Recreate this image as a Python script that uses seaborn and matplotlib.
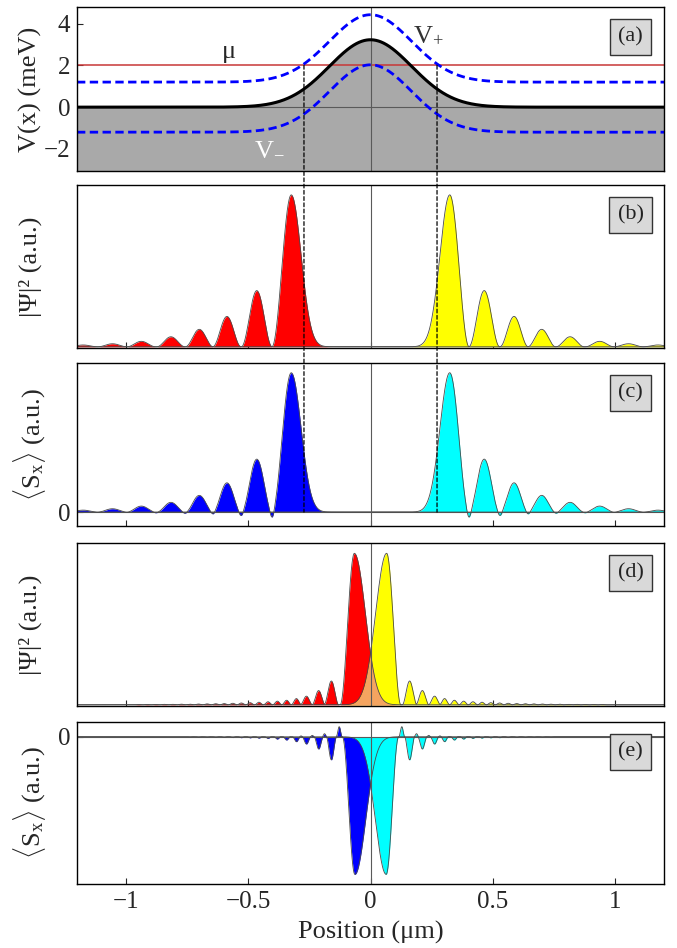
import numpy as np
import pandas as pd
import matplotlib
matplotlib.use("Agg")
import matplotlib.pyplot as plt
import seaborn as sns
from matplotlib.patches import ConnectionPatch

# ------------------------------------------------------------------
# Values (positions in µm)
# ------------------------------------------------------------------
# (a) barrier potential (meV)
pot_height = 3.23          # peak of V(x)
pot_width = 0.168          # gaussian width of the barrier
zeeman_shift = 1.2         # V± = V ± shift
mu_level = 2.0             # chemical potential
mu_cross = 0.272           # where V+ crosses mu (dashed guides)
a_yticks = [-2, 0, 2, 4]
a_yticklabels = ["\u22122", "0", "2", "4"]

x_ticks = [-1, -0.5, 0, 0.5, 1]
x_ticklabels = ["\u22121", "\u22120.5", "0", "0.5", "1"]

# (b) |Psi|^2 of the left state (red); right state (yellow) is its mirror image
b_main = (-0.324, 1.0, 0.079, 0.040)       # centre, height, left half-support, right sigma
b_lobe_pos = [-0.465, -0.587, -0.700, -0.816, -0.937, -1.055, -1.175]
b_lobe_hgt = [0.37, 0.20, 0.115, 0.066, 0.036, 0.020, 0.012]
b_lobe_hw = [0.063, 0.058, 0.057, 0.058, 0.059, 0.060, 0.060]

# (c) <Sx> of the same states (blue / cyan)
c_main = (-0.324, 1.0, 0.079, 0.040)
c_lobe_hgt = [0.38, 0.21, 0.12, 0.07, 0.043, 0.024, 0.014]
c_dip_pos = [-0.403, -0.530, -0.645, -0.760, -0.878, -0.997, -1.117]
c_dip_dep = [-0.036, -0.024, -0.013, -0.008, -0.005, -0.003, -0.002]
c_dip_hw = 0.018

# (d) |Psi|^2 for the coupled case (red / yellow mirror)
d_main = (-0.066, 1.0, 0.058, 0.045)
d_lobe_pos = [-0.160, -0.212, -0.262, -0.303, -0.343, -0.381, -0.419, -0.456,
              -0.492, -0.528, -0.563, -0.598, -0.633, -0.668, -0.703, -0.738,
              -0.773, -0.808, -0.843, -0.878, -0.913, -0.948]
d_lobe_hgt = [0.157, 0.094, 0.057, 0.041, 0.030, 0.024, 0.020, 0.017,
              0.014, 0.012, 0.010, 0.008, 0.007, 0.006, 0.005, 0.004,
              0.004, 0.003, 0.003, 0.002, 0.002, 0.002]
d_lobe_hw = [0.030, 0.027, 0.025, 0.021, 0.020, 0.019, 0.019, 0.018,
             0.018, 0.018, 0.018, 0.018, 0.018, 0.018, 0.018, 0.018,
             0.018, 0.018, 0.018, 0.018, 0.018, 0.018]

# (e) <Sx> for the coupled case (blue / cyan mirror)
e_main = (-0.064, -1.0, 0.051, 0.044)
e_dip_pos = [-0.160, -0.212, -0.262, -0.303, -0.343, -0.381, -0.419, -0.456,
             -0.492, -0.528, -0.563, -0.598, -0.633, -0.668, -0.703, -0.738]
e_dip_dep = [-0.168, -0.089, -0.053, -0.036, -0.024, -0.017, -0.012, -0.010,
             -0.008, -0.007, -0.006, -0.005, -0.004, -0.003, -0.003, -0.002]
e_dip_hw = [0.021, 0.019, 0.018, 0.016, 0.015, 0.014, 0.014, 0.013,
            0.013, 0.013, 0.013, 0.013, 0.013, 0.013, 0.013, 0.013]
e_spike_pos = [-0.128, -0.188, -0.238, -0.284]
e_spike_hgt = [0.073, 0.022, 0.010, 0.006]
e_spike_hw = [0.012, 0.010, 0.009, 0.008]

panel_labels = ["(a)", "(b)", "(c)", "(d)", "(e)"]

# ------------------------------------------------------------------
# curve builders from the lobe parameters
# ------------------------------------------------------------------
x = np.linspace(-1.2, 1.2, 4801)


def bump(xx, c, h, hw, p):
    u = np.clip(np.abs(xx - c) / hw, 0, 1)
    return h * np.cos(np.pi / 2 * u) ** p


def main_lobe(xx, c, h, wl, wr):
    left = h * np.cos(np.pi / 2 * np.clip((c - xx) / wl, 0, 1)) ** 2
    right = h * np.exp(-(xx - c) ** 2 / (2 * wr ** 2))
    return np.where(xx < c, left, right)


def add_bumps(xx, pos, hgt, hw, p):
    y = np.zeros_like(xx)
    if np.isscalar(hw):
        hw = [hw] * len(pos)
    for c, h, w in zip(pos, hgt, hw):
        y += bump(xx, c, h, w, p)
    return y


def b_curve(xx):
    return main_lobe(xx, *b_main) + add_bumps(xx, b_lobe_pos, b_lobe_hgt, b_lobe_hw, 2)


def c_curve(xx):
    return (main_lobe(xx, *c_main) + add_bumps(xx, b_lobe_pos, c_lobe_hgt, b_lobe_hw, 2)
            + add_bumps(xx, c_dip_pos, c_dip_dep, c_dip_hw, 2))


def d_curve(xx):
    return main_lobe(xx, *d_main) + add_bumps(xx, d_lobe_pos, d_lobe_hgt, d_lobe_hw, 2)


def e_curve(xx):
    return (main_lobe(xx, *e_main) + add_bumps(xx, e_dip_pos, e_dip_dep, e_dip_hw, 2)
            + add_bumps(xx, e_spike_pos, e_spike_hgt, e_spike_hw, 2))


V = pot_height * np.exp(-x ** 2 / (2 * pot_width ** 2))
Vp = V + zeeman_shift
Vm = V - zeeman_shift

b_red, b_yel = b_curve(x), b_curve(-x)
c_blu, c_cya = c_curve(x), c_curve(-x)
d_red, d_yel = d_curve(x), d_curve(-x)
e_blu, e_cya = e_curve(x), e_curve(-x)

# ------------------------------------------------------------------
# style
# ------------------------------------------------------------------
sns.set_style("ticks")
plt.rcParams["font.family"] = ["Liberation Serif", "DejaVu Serif"]
plt.rcParams["mathtext.fontset"] = "custom"
plt.rcParams["mathtext.rm"] = "Liberation Serif"
plt.rcParams["mathtext.it"] = "Liberation Serif:italic"
plt.rcParams["mathtext.bf"] = "Liberation Serif:bold"
plt.rcParams["axes.unicode_minus"] = True

W_PX, H_PX = 677, 948
fig = plt.figure(figsize=(W_PX / 100, H_PX / 100), dpi=100)
left_px, right_px = 77, 664
frames = [(7, 171), (185, 348), (363, 526), (543, 706), (722, 884)]
axes = []
for t, b in frames:
    axes.append(fig.add_axes([left_px / W_PX, 1 - b / H_PX,
                              (right_px - left_px) / W_PX, (b - t) / H_PX]))
ax_a, ax_b, ax_c, ax_d, ax_e = axes

ylims = [(-3.06, 4.8), (-0.008, 1.065), (-0.10, 1.07), (-0.008, 1.068), (-1.07, 0.107)]
EDGE = "#4a4a4a"
GUIDE = "#5a5a5a"


def outline(ax, yy, color=EDGE, lw=0.6, z=4):
    sns.lineplot(x=x, y=yy, ax=ax, color=color, lw=lw, estimator=None, sort=False,
                 zorder=z)


for i, ax in enumerate(axes):
    ax.set_xlim(-1.2, 1.2)
    ax.set_ylim(*ylims[i])
    ax.axvline(0, color=GUIDE, lw=0.8, zorder=5)
    ax.set_xticks(x_ticks)
    ax.tick_params(axis="both", direction="in", length=4, width=0.8,
                   labelsize=18, pad=5, top=False, right=False)
    for s in ax.spines.values():
        s.set_linewidth(1.0)
        s.set_color("black")
        s.set_zorder(10)
    ax.text(0.943, 0.815, panel_labels[i], transform=ax.transAxes, ha="center",
            va="center", fontsize=16, color="#222222", zorder=20,
            bbox=dict(boxstyle="square,pad=0.38", fc="#d9d9d9", ec="#333333", lw=1.0))
    if i < 4:
        ax.set_xticklabels([])
    else:
        ax.set_xticklabels(x_ticklabels)

# ---- (a) potential ----
ax_a.fill_between(x, V, ylims[0][0], color="#a9a9a9", lw=0, zorder=1)
ax_a.axhline(0, color=GUIDE, lw=0.8, zorder=2)
ax_a.axhline(mu_level, color="#c83737", lw=1.1, zorder=3)
sns.lineplot(x=x, y=Vp, ax=ax_a, color="#0000ff", lw=2.0, zorder=4)
sns.lineplot(x=x, y=Vm, ax=ax_a, color="#0000ff", lw=2.0, zorder=4)
for ln in ax_a.lines[-2:]:
    ln.set_dashes((3.0, 1.6))
sns.lineplot(x=x, y=V, ax=ax_a, color="black", lw=2.2, zorder=5)
ax_a.set_yticks(a_yticks)
ax_a.set_yticklabels(a_yticklabels)
ax_a.text(-0.58, 2.62, "\u03bc", fontsize=19, ha="center", va="center", zorder=6)
ax_a.text(0.235, 3.45, r"V$_{+}$", fontsize=19, ha="center", va="center",
          color="#333333", zorder=6)
ax_a.text(-0.415, -2.0, r"V$_{-}$", fontsize=19, ha="center", va="center",
          color="white", zorder=6)

# ---- (b) ----
ax_b.fill_between(x, 0, b_red, color="#ff0000", lw=0, zorder=1)
ax_b.fill_between(x, 0, b_yel, color="#ffff00", lw=0, zorder=1)
outline(ax_b, b_red)
outline(ax_b, b_yel)
ax_b.set_yticks([])

# ---- (c) ----
ax_c.fill_between(x, 0, c_blu, color="#0000ff", lw=0, zorder=1)
ax_c.fill_between(x, 0, c_cya, color="#00ffff", lw=0, zorder=1)
ax_c.axhline(0, color=GUIDE, lw=0.8, zorder=2)
outline(ax_c, c_blu)
outline(ax_c, c_cya)
ax_c.set_yticks([0])
ax_c.set_yticklabels(["0"])

# ---- (d) ----
ax_d.fill_between(x, 0, d_red, color="#ff0000", lw=0, zorder=1)
ax_d.fill_between(x, 0, d_yel, color="#ffff00", lw=0, zorder=1)
ax_d.fill_between(x, 0, np.minimum(d_red, d_yel), color="#f4a460", lw=0, zorder=2)
outline(ax_d, d_red)
outline(ax_d, d_yel)
ax_d.set_yticks([])

# ---- (e) ----
ax_e.fill_between(x, 0, e_blu, color="#0000ff", lw=0, zorder=1)
ax_e.fill_between(x, 0, e_cya, color="#00ffff", lw=0, zorder=2)
ax_e.axhline(0, color=GUIDE, lw=0.8, zorder=3)
outline(ax_e, e_blu)
outline(ax_e, e_cya)
ax_e.set_yticks([0])
ax_e.set_yticklabels(["0"])

# ---- axis labels ----
ylabels = ["V(x) (meV)", "|\u03a8|\u00b2 (a.u.)",
           r"$\langle\mathrm{S}_\mathrm{x}\rangle$ (a.u.)",
           "|\u03a8|\u00b2 (a.u.)",
           r"$\langle\mathrm{S}_\mathrm{x}\rangle$ (a.u.)"]
for ax, lab in zip(axes, ylabels):
    ax.set_ylabel(lab, fontsize=19)
    ax.yaxis.label.set_verticalalignment("center")
    ax.yaxis.set_label_coords((30 - left_px) / (right_px - left_px), 0.5)
    ax.set_xlabel("")
ax_e.set_xlabel("Position (\u03bcm)", fontsize=19)
ax_e.xaxis.label.set_verticalalignment("center")
ax_e.xaxis.set_label_coords(0.5, -(932 - 884) / (884 - 722))

# ---- dashed guides from (a) to (c) ----
for xs in (-mu_cross, mu_cross):
    con = ConnectionPatch(xyA=(xs, mu_level), coordsA=ax_a.transData,
                          xyB=(xs, 0.0), coordsB=ax_c.transData,
                          color="black", lw=0.9, linestyle=(0, (3, 2)), zorder=30)
    fig.add_artist(con)

fig.savefig("out.png", dpi=100)
